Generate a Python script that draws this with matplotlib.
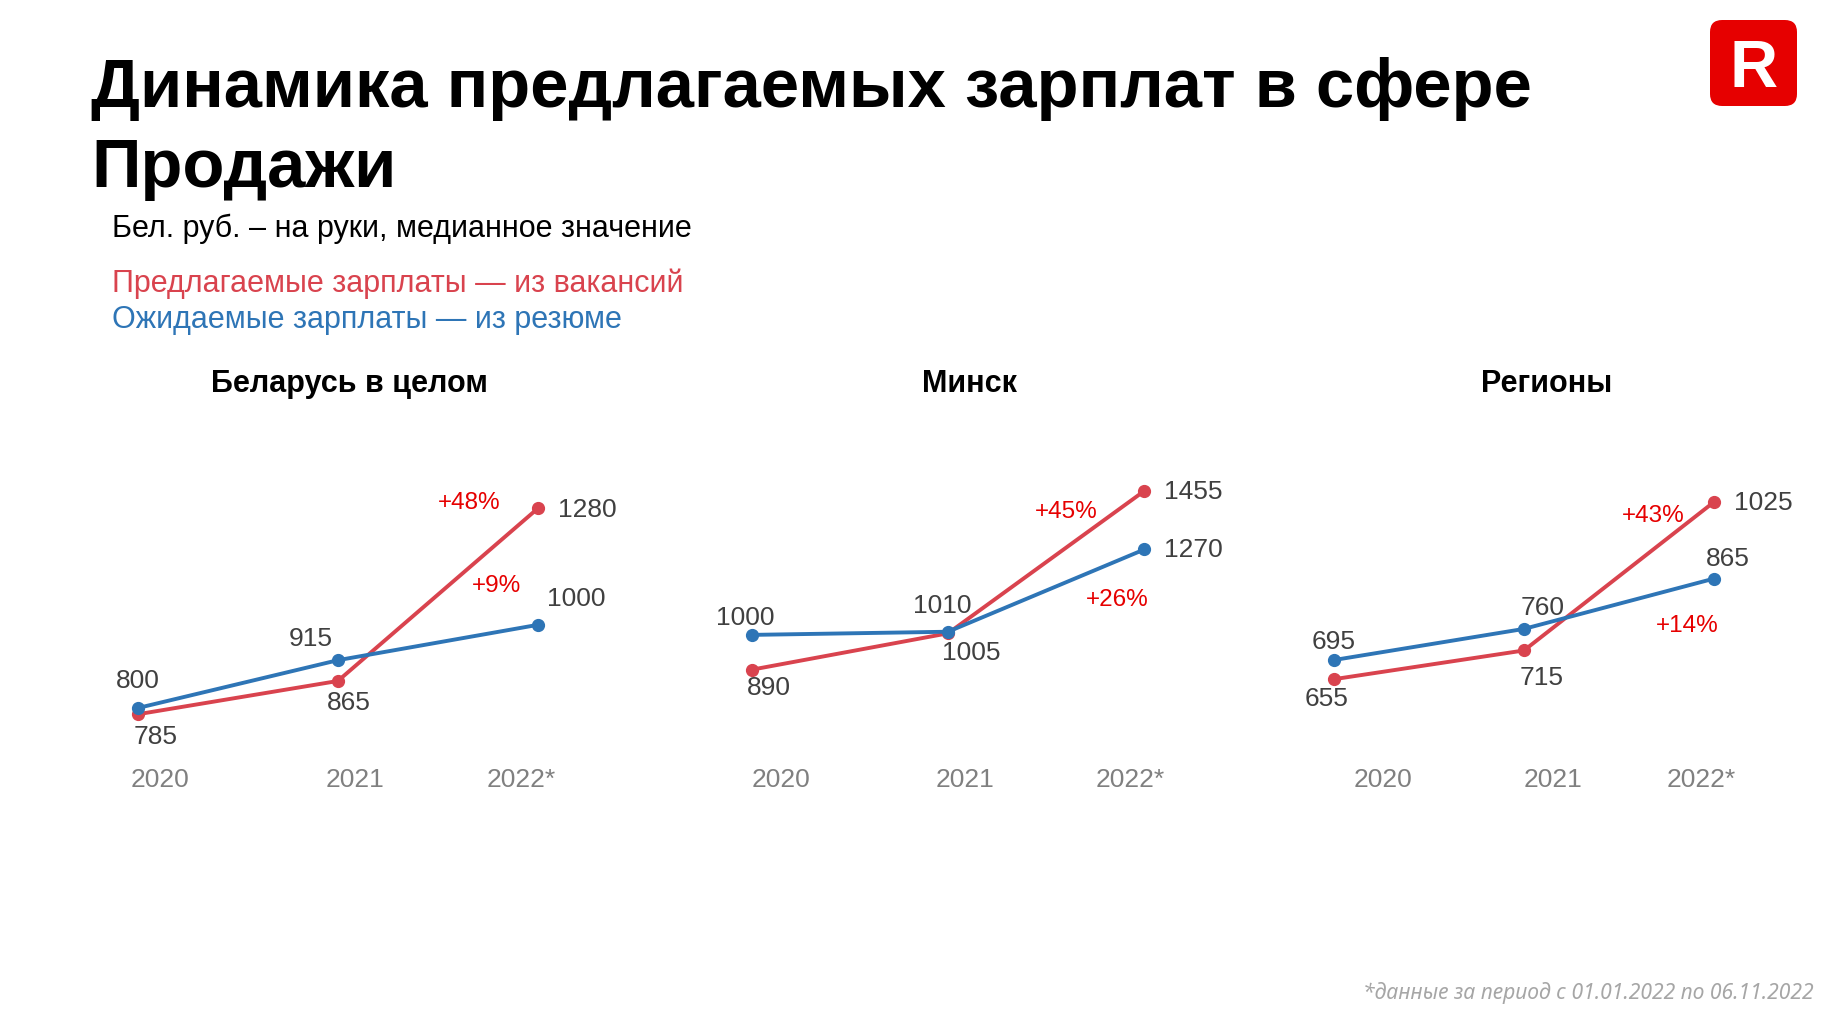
import matplotlib
matplotlib.use("Agg")
import matplotlib.pyplot as plt
from matplotlib.patches import FancyBboxPatch
from matplotlib.transforms import ScaledTranslation

# ---------------- data ----------------
years = ["2020", "2021", "2022*"]
panel_titles = ["Беларусь в целом", "Минск", "Регионы"]
offered_belarus = [785, 865, 1280]
expected_belarus = [800, 915, 1000]
offered_minsk = [890, 1005, 1455]
expected_minsk = [1000, 1010, 1270]
offered_regions = [655, 715, 1025]
expected_regions = [695, 760, 865]
pct_offered = ["+48%", "+45%", "+43%"]
pct_expected = ["+9%", "+26%", "+14%"]

title_line1 = "Динамика предлагаемых зарплат в сфере"
title_line2 = "Продажи"
subtitle = "Бел. руб. – на руки, медианное значение"
legend_offered = "Предлагаемые зарплаты — из вакансий"
legend_expected = "Ожидаемые зарплаты — из резюме"
footnote = "*данные за период с 01.01.2022 по 06.11.2022"

offered = [offered_belarus, offered_minsk, offered_regions]
expected = [expected_belarus, expected_minsk, expected_regions]

# ---------------- style / layout ----------------
RED = "#d9434e"
BLUE = "#2e75b6"
PCT_RED = "#e60000"
LABEL = "#404040"
YEAR = "#808080"
FONT = ["Liberation Sans", "DejaVu Sans"]
plt.rcParams["font.family"] = FONT

W, H = 1833, 1021
fig = plt.figure(figsize=(W / 100, H / 100), dpi=100)
fig.patch.set_facecolor("white")

def fx(px):
    return px / W

def fy(py):
    return 1 - py / H

# axes rectangles in pixels: left, width ; common top=400 bottom=740
ax_left = [58, 673, 1258]
ax_width = [559.7, 550, 532]
ax_top, ax_bottom = 400, 740
ylims = [(723, 1541), (668, 1742), (528, 1238)]
xlim = (-0.4, 2.4)

# label offsets (pixels, x right, y up)
off_offered = [
    [(17.5, -23), (10.5, -22), (50, -2)],
    [(17.5, -18.5), (23, -20), (49, -1)],
    [(-7, -20), (17.5, -28), (49, -1)],
]
off_expected = [
    [(0, 27), (-27, 21), (38.6, 26)],
    [(-6, 16.5), (-6, 26), (49, -1)],
    [(0, 18), (19, 21), (14, 20)],
]
off_pct_offered = [(-69, 5), (-78, -21), (-61, -14)]
off_pct_expected = [(-41, 39), (-27, -51), (-27, -47)]
year_dx = [[22, 17.6, -16], [29, 17.5, -14], [49, 29, -13]]
title_x = [349, 969, 1547]

for i in range(3):
    ax = fig.add_axes([fx(ax_left[i]), fy(ax_bottom), fx(ax_width[i]),
                       (ax_bottom - ax_top) / H])
    ax.set_xlim(*xlim)
    ax.set_ylim(*ylims[i])
    for s in ax.spines.values():
        s.set_visible(False)
    ax.set_yticks([])
    xs = list(range(len(years)))
    ax.plot(xs, offered[i], color=RED, lw=2.8, marker="o", ms=8.5,
            solid_capstyle="round", zorder=3)
    ax.plot(xs, expected[i], color=BLUE, lw=2.8, marker="o", ms=8.5,
            solid_capstyle="round", zorder=4)
    for j, x in enumerate(xs):
        ax.annotate(str(offered[i][j]), (x, offered[i][j]),
                    xytext=off_offered[i][j], textcoords="offset pixels",
                    ha="center", va="center", fontsize=19, color=LABEL)
        ax.annotate(str(expected[i][j]), (x, expected[i][j]),
                    xytext=off_expected[i][j], textcoords="offset pixels",
                    ha="center", va="center", fontsize=19, color=LABEL)
    ax.annotate(pct_offered[i], (xs[-1], offered[i][-1]),
                xytext=off_pct_offered[i], textcoords="offset pixels",
                ha="center", va="center", fontsize=17.5, color=PCT_RED)
    ax.annotate(pct_expected[i], (xs[-1], expected[i][-1]),
                xytext=off_pct_expected[i], textcoords="offset pixels",
                ha="center", va="center", fontsize=17.5, color=PCT_RED)
    ax.set_xticks(xs)
    ax.set_xticklabels(years, fontsize=19, color=YEAR)
    ax.tick_params(axis="x", length=0, pad=20)
    for lab, dx in zip(ax.get_xticklabels(), year_dx[i]):
        lab.set_transform(lab.get_transform() +
                          ScaledTranslation(dx / 100, 0, fig.dpi_scale_trans))
    fig.text(fx(title_x[i]), fy(392), panel_titles[i], ha="center",
             va="baseline", fontsize=22, fontweight="bold", color="black")

# titles
fig.text(fx(91), fy(107), title_line1, fontsize=49.5, fontweight="bold",
         va="baseline", ha="left", color="black")
fig.text(fx(91), fy(187), title_line2, fontsize=49.5, fontweight="bold",
         va="baseline", ha="left", color="black")
fig.text(fx(112), fy(237), subtitle, fontsize=22, va="baseline", ha="left",
         color="black")
fig.text(fx(112), fy(292), legend_offered, fontsize=22, va="baseline",
         ha="left", color=RED)
fig.text(fx(112), fy(328), legend_expected, fontsize=22, va="baseline",
         ha="left", color=BLUE)
fig.text(fx(1814), fy(999), footnote, fontsize=15.2, va="baseline", ha="right",
         color="#a6a6a6", style="italic", family=["Noto Sans", "DejaVu Sans"])

# logo
lax = fig.add_axes([fx(1710), fy(106), fx(87), 86 / H])
lax.set_xlim(0, 1)
lax.set_ylim(0, 1)
lax.axis("off")
lax.add_patch(FancyBboxPatch((0, 0), 1, 1,
                             boxstyle="round,pad=0,rounding_size=0.14",
                             facecolor="#e60000", edgecolor="none",
                             transform=lax.transAxes, clip_on=False))
lax.text(0.5, 0.217, "R", ha="center", va="baseline", fontsize=48,
         fontweight="bold", color="white")

fig.savefig("out.png", dpi=100, facecolor="white")
